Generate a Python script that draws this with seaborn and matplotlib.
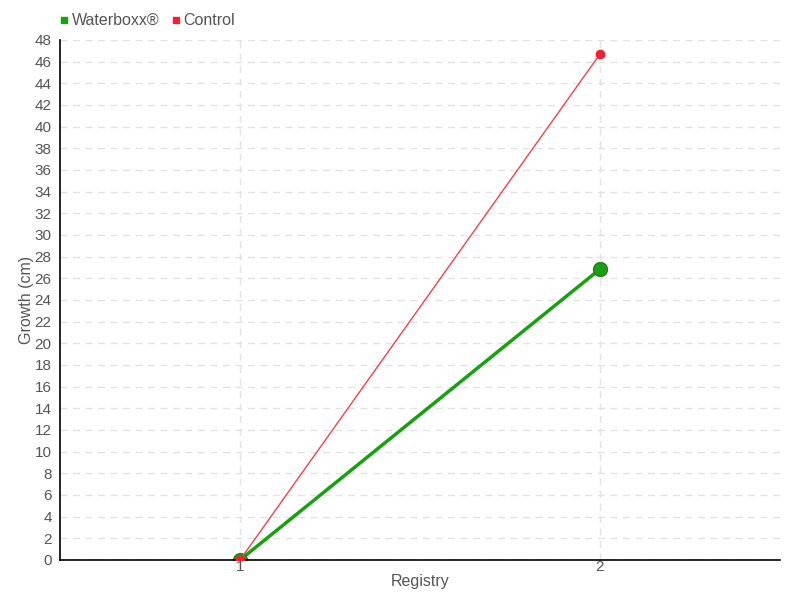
import pandas as pd
import matplotlib.pyplot as plt
import seaborn as sns

# values
registry = [1, 2]
waterboxx = [0, 26.85]
control = [0, 46.7]
series_names = ["Waterboxx®", "Control"]

df = pd.DataFrame({
    "Registry": registry * 2,
    "Growth": waterboxx + control,
    "Series": [series_names[0]] * 2 + [series_names[1]] * 2,
})

sns.set_style("white")
plt.rcParams['font.family'] = ['Liberation Sans', 'DejaVu Sans']

text_col = "#555555"
colors = {"Waterboxx®": "#1a9f12", "Control": "#f02035"}

fig = plt.figure(figsize=(8, 6), dpi=100)
ax = fig.add_axes([0.075, 0.0667, 0.9, 0.8667])

sns.lineplot(data=df[df.Series == "Control"], x="Registry", y="Growth",
             color="#f5404f", linewidth=1, marker="o", markersize=7,
             markerfacecolor=colors["Control"], markeredgewidth=0,
             ax=ax, zorder=3, legend=False)
sns.lineplot(data=df[df.Series == "Waterboxx®"], x="Registry", y="Growth",
             color=colors["Waterboxx®"], linewidth=2.5, marker="o", markersize=10,
             markeredgecolor="#2a7a22", markeredgewidth=1, ax=ax, zorder=2, legend=False)
# control marker at the start drawn above the green one
ax.plot([registry[0]], [control[0]], "o", color=colors["Control"], markersize=7,
        markeredgewidth=0, zorder=4)

ax.set_xlim(0.5, 2.5)
ax.set_ylim(0, 48)
ax.set_xticks(registry)
ax.set_yticks(range(0, 49, 2))
ax.grid(True, color="#e3e3e3", linestyle=(0, (5, 4)), linewidth=1)
ax.set_axisbelow(True)

for s in ["top", "right"]:
    ax.spines[s].set_visible(False)
for s in ["left", "bottom"]:
    ax.spines[s].set_color("black")
    ax.spines[s].set_linewidth(1.2)

ax.tick_params(axis="y", direction="inout", length=8, width=1, colors="black",
               labelcolor=text_col, labelsize=11, pad=2)
ax.tick_params(axis="x", direction="inout", length=10, width=1, colors="#444444",
               labelcolor=text_col, labelsize=11, pad=-5)

ax.set_xlabel("Registry", color=text_col, fontsize=11.5, labelpad=0)
ax.set_ylabel("Growth (cm)", color=text_col, fontsize=11.5)
ax.yaxis.set_label_coords(-0.036, 0.5)

handles = [plt.Line2D([], [], marker="s", linestyle="", color=colors[n], markersize=5)
           for n in series_names]
fig.legend(handles, series_names, loc="upper left", bbox_to_anchor=(0.052, 1.002),
           ncol=2, frameon=False, fontsize=11.5, handletextpad=0.0,
           columnspacing=0.5, handlelength=1.0, labelcolor=text_col)

fig.savefig("out.png", dpi=100)
